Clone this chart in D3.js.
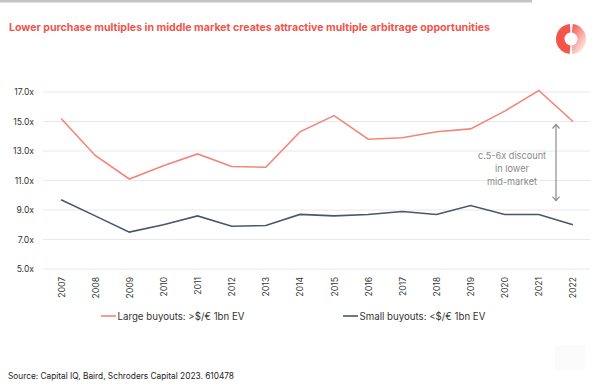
<!DOCTYPE html>
<html>
<head>
<meta charset="utf-8">
<title>Purchase multiples</title>
<script src="https://cdnjs.cloudflare.com/ajax/libs/d3/7.8.5/d3.min.js"></script>
<style>
  body { margin: 0; background: #fff; }
  text { font-family: Inter, Lato, sans-serif; }
</style>
</head>
<body>
<script>
// data
var years = ["2007","2008","2009","2010","2011","2012","2013","2014","2015","2016","2017","2018","2019","2020","2021","2022"];
var large = [15.2, 12.7, 11.1, 12.0, 12.8, 11.95, 11.9, 14.3, 15.4, 13.8, 13.9, 14.3, 14.5, 15.7, 17.1, 15.0];
var small = [9.7, 8.6, 7.5, 8.0, 8.6, 7.9, 7.95, 8.7, 8.6, 8.7, 8.9, 8.7, 9.3, 8.7, 8.7, 8.0];
var yTicks = [5, 7, 9, 11, 13, 15, 17];
var seriesNames = ["Large buyouts: >$/\u20ac 1bn EV", "Small buyouts: <$/\u20ac 1bn EV"];
var noteLines = ["c.5-6x discount", "in lower", "mid-market"];

var W = 597, H = 386;
var colLarge = "#f4857b", colSmall = "#4b566b";

var svg = d3.select("body").append("svg")
    .attr("width", W).attr("height", H);

// top grey strip
svg.append("rect").attr("x", 0).attr("y", 0).attr("width", 532).attr("height", 2.5).attr("fill", "#c4c4c4");

// title
svg.append("text")
    .attr("x", 9).attr("y", 31)
    .attr("fill", "#f0554d")
    .attr("font-size", 10.4)
    .attr("font-weight", 700)
    .attr("textLength", 481).attr("lengthAdjust", "spacingAndGlyphs")
    .text("Lower purchase multiples in middle market creates attractive multiple arbitrage opportunities");

// logo ring
var defs = svg.append("defs");
var grad = defs.append("linearGradient").attr("id", "fade")
    .attr("x1", "0").attr("y1", "0").attr("x2", "0.7").attr("y2", "1");
grad.append("stop").attr("offset", "0").attr("stop-color", "#f4554a");
grad.append("stop").attr("offset", "1").attr("stop-color", "#fdeeec");
var ring = d3.arc().innerRadius(6.5).outerRadius(15);
var logo = svg.append("g").attr("transform", "translate(571,39)");
logo.append("path").attr("d", ring({startAngle: Math.PI * 1.03, endAngle: Math.PI * 2 - 0.08})).attr("fill", "#f4554a");
logo.append("path").attr("d", ring({startAngle: 0.12, endAngle: Math.PI * 0.97})).attr("fill", "url(#fade)");

// scales
var x = d3.scalePoint().domain(years).range([44, 590]).padding(0.5);
var y = d3.scaleLinear().domain([5, 17]).range([269, 92]);

// gridlines
svg.append("g").selectAll("line").data(yTicks).join("line")
    .attr("x1", 43).attr("x2", 590)
    .attr("y1", d => y(d)).attr("y2", d => y(d))
    .attr("stroke", "#e8e8e8").attr("stroke-width", 1);

// y axis labels
var yAxis = svg.append("g").attr("transform", "translate(34,0)")
    .call(d3.axisLeft(y).tickValues(yTicks).tickSize(0).tickPadding(0).tickFormat(d => d3.format(".1f")(d) + "x"));
yAxis.select(".domain").remove();
yAxis.selectAll("text").attr("font-size", 8.6).attr("fill", "#333").style("font-family", "Inter, sans-serif");

// x axis labels (rotated)
var xAxis = svg.append("g").attr("transform", "translate(0,275)")
    .call(d3.axisBottom(x).tickSize(0).tickPadding(0));
xAxis.select(".domain").remove();
xAxis.selectAll("text")
    .attr("font-size", 8.6).attr("fill", "#333").style("font-family", "Inter, sans-serif")
    .attr("transform", "rotate(-90)")
    .attr("text-anchor", "end")
    .attr("x", -2).attr("y", 0).attr("dy", "0.35em");

// lines
var line = d3.line().x((d, i) => x(years[i])).y(d => y(d));
svg.append("path").datum(large).attr("d", line)
    .attr("fill", "none").attr("stroke", colLarge).attr("stroke-width", 1.6);
svg.append("path").datum(small).attr("d", line)
    .attr("fill", "none").attr("stroke", colSmall).attr("stroke-width", 1.6);

// discount annotation
var ax = 556;
var arrowCol = "#8a8a8a";
svg.append("line").attr("x1", ax).attr("x2", ax).attr("y1", y(15.0) + 3).attr("y2", y(9.5) - 2)
    .attr("stroke", arrowCol).attr("stroke-width", 1.2);
svg.append("path").attr("d", "M" + (ax - 3.5) + "," + (y(15.0) + 7) + "L" + ax + "," + (y(15.0) + 3) + "L" + (ax + 3.5) + "," + (y(15.0) + 7))
    .attr("fill", "none").attr("stroke", arrowCol).attr("stroke-width", 1.2);
svg.append("path").attr("d", "M" + (ax - 3.5) + "," + (y(9.5) - 6) + "L" + ax + "," + (y(9.5) - 2) + "L" + (ax + 3.5) + "," + (y(9.5) - 6))
    .attr("fill", "none").attr("stroke", arrowCol).attr("stroke-width", 1.2);
svg.append("g").selectAll("text").data(noteLines).join("text")
    .attr("x", 512).attr("y", (d, i) => 159 + i * 12.8)
    .attr("text-anchor", "middle")
    .attr("font-size", 9.2).attr("fill", "#8a8a8a")
    .text(d => d);

// legend
var legend = svg.append("g");
[[101, colLarge], [343, colSmall]].forEach(function (p, i) {
  legend.append("line").attr("x1", p[0]).attr("x2", p[0] + 15).attr("y1", 316).attr("y2", 316)
      .attr("stroke", p[1]).attr("stroke-width", 1.6);
  legend.append("text").attr("x", p[0] + 16.5).attr("y", 319.5)
      .attr("font-size", 9.7).attr("fill", "#333").text(seriesNames[i]);
});

// faint corner box
svg.append("rect").attr("x", 555).attr("y", 345).attr("width", 30).attr("height", 25).attr("fill", "#fbfbfb");

// source
svg.append("text").attr("x", 8).attr("y", 379)
    .attr("font-size", 8.3).attr("fill", "#222")
    .text("Source: Capital IQ, Baird, Schroders Capital 2023. 610478");
</script>
</body>
</html>
